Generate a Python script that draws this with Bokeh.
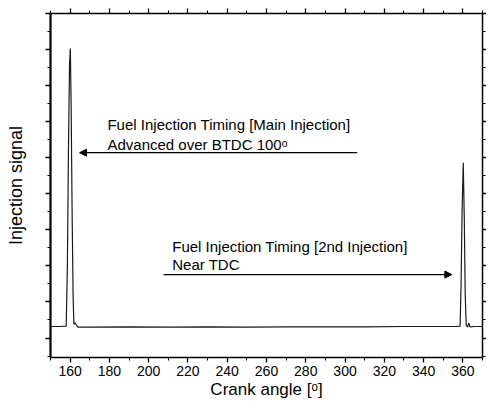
from bokeh.plotting import figure
from bokeh.models import (LinearAxis, FixedTicker, Range1d, Label, Arrow,
                          NormalHead, CustomJSTickFormatter)
from bokeh.embed import file_html
from bokeh.resources import INLINE

# ---- data ----
crank_angle = [150, 155, 158.0, 158.6, 159.2, 159.7, 160.1, 160.5, 161.0,
               161.5, 161.9, 162.5, 163.2, 164.0, 170, 190, 210, 230, 250,
               270, 290, 310, 330, 350, 356, 358.6, 359.1, 359.6, 360.2,
               360.7, 361.2, 361.7, 362.4, 363.0, 363.6, 366, 370]
injection_signal = [0.32, 0.32, 0.33, 2.0, 5.5, 7.6, 8.03, 6.5, 3.5,
                    1.2, 0.38, 0.42, 0.36, 0.30, 0.30, 0.31, 0.30, 0.31, 0.30,
                    0.31, 0.31, 0.31, 0.32, 0.32, 0.32, 0.33, 1.5, 3.5, 4.86,
                    3.4, 1.2, 0.35, 0.30, 0.42, 0.31, 0.32, 0.32]

x_major = [160, 180, 200, 220, 240, 260, 280, 300, 320, 340, 360]
x_minor = [150, 170, 190, 210, 230, 250, 270, 290, 310, 330, 350, 370]
y_major = [0, 1, 2, 3, 4, 5, 6, 7, 8, 9]
y_minor = [-0.5, 0.5, 1.5, 2.5, 3.5, 4.5, 5.5, 6.5, 7.5, 8.5]

main_text = ["Fuel Injection Timing [Main Injection]", "Advanced over BTDC 100\u1d52"]
second_text = ["Fuel Injection Timing [2nd Injection]", "Near TDC"]

FONT = "Liberation Sans"

p = figure(width=486, height=401, output_backend="svg", toolbar_location=None,
           x_range=Range1d(150, 370), y_range=Range1d(-0.54, 9.0),
           x_axis_location=None, y_axis_location=None,
           min_border_left=50, min_border_right=4, min_border_top=13,
           min_border_bottom=38)
p.outline_line_color = None
p.grid.visible = False
p.background_fill_color = "white"
p.border_fill_color = "white"

empty = CustomJSTickFormatter(code="return ''")


def style(ax, width):
    ax.axis_line_width = width
    ax.axis_line_color = "black"
    ax.major_tick_out = 5
    ax.major_tick_in = 0
    ax.minor_tick_out = 3
    ax.minor_tick_in = 0
    ax.major_tick_line_width = 1.3
    ax.minor_tick_line_width = 1.1
    ax.major_tick_line_color = "black"
    ax.minor_tick_line_color = "black"
    ax.major_label_text_font = FONT
    ax.axis_label_text_font = FONT
    ax.axis_label_text_font_style = "normal"
    ax.axis_label_text_color = "black"
    ax.major_label_text_color = "black"


xt = FixedTicker(ticks=x_major, minor_ticks=x_minor)
yt = FixedTicker(ticks=y_major, minor_ticks=y_minor)

bottom = LinearAxis(ticker=xt, axis_label="Crank angle [\u1d52]")
style(bottom, 1.5)
bottom.major_label_text_font_size = "14px"
bottom.major_label_standoff = 3
bottom.axis_label_text_font_size = "17px"
bottom.axis_label_standoff = 1
p.add_layout(bottom, "below")

top = LinearAxis(ticker=xt, formatter=empty)
style(top, 1.5)
top.major_label_text_font_size = "0px"
top.major_label_standoff = 0
p.add_layout(top, "above")

left = LinearAxis(ticker=yt, formatter=empty, axis_label="Injection signal")
style(left, 2.2)
left.major_label_text_font_size = "0px"
left.major_label_standoff = 0
left.axis_label_text_font_size = "18px"
left.axis_label_standoff = 20
p.add_layout(left, "left")

right = LinearAxis(ticker=yt, formatter=empty)
style(right, 1.5)
right.major_tick_out = 4
right.major_label_text_font_size = "0px"
right.major_label_standoff = 0
p.add_layout(right, "right")

p.line(crank_angle, injection_signal, line_color="#1a1a1a", line_width=1.2)

# annotations
for txt, yy in zip(main_text, [5.92, 5.38]):
    p.add_layout(Label(x=179, y=yy, text=txt, text_font=FONT,
                       text_font_size="15px", text_baseline="middle",
                       text_color="black"))
for txt, yy in zip(second_text, [2.54, 2.03]):
    p.add_layout(Label(x=212, y=yy, text=txt, text_font=FONT,
                       text_font_size="15px", text_baseline="middle",
                       text_color="black"))

p.add_layout(Arrow(end=NormalHead(size=7, fill_color="black", line_color="black"),
                   x_start=306.2, y_start=5.14, x_end=164.8, y_end=5.14,
                   line_width=1.3, line_color="black"))
p.add_layout(Arrow(end=NormalHead(size=7, fill_color="black", line_color="black"),
                   x_start=207.6, y_start=1.76, x_end=354.4, y_end=1.76,
                   line_width=1.3, line_color="black"))

open("out.html", "w").write(file_html(p, INLINE))
